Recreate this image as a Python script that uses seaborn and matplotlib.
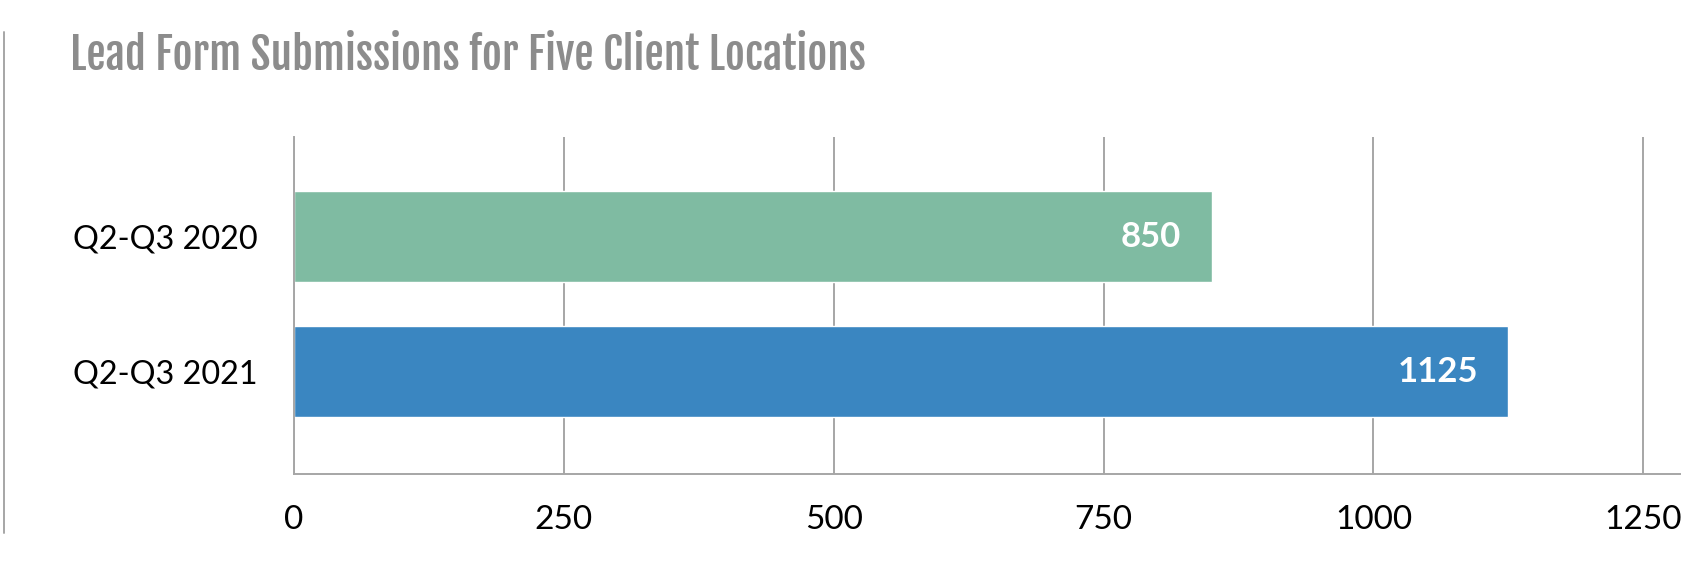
import matplotlib
matplotlib.use("Agg")
import matplotlib.pyplot as plt
from matplotlib import font_manager
from matplotlib.lines import Line2D
import seaborn as sns
import pandas as pd

# ---- data ----
periods = ["Q2-Q3 2020", "Q2-Q3 2021"]
submissions = [850, 1125]
bar_colors = ["#7fbba2", "#3a86c1"]
x_ticks = [0, 250, 500, 750, 1000, 1250]
title_text = "Lead Form Submissions for Five Client Locations"

installed = {f.name for f in font_manager.fontManager.ttflist}
def pick(cands):
    for c in cands:
        if c in installed:
            return c
    return "DejaVu Sans"

title_font = pick(["Fjalla One", "Roboto Condensed", "Liberation Sans Narrow", "Open Sans Condensed", "DejaVu Sans"])
body_font = pick(["Lato", "Roboto", "Open Sans", "DejaVu Sans"])

sns.set_theme(style="white")
plt.rcParams["font.family"] = [body_font, "DejaVu Sans"]

df = pd.DataFrame({"period": periods, "value": submissions})

fig = plt.figure(figsize=(16.84, 5.80), dpi=100)
ax = fig.add_axes([0.1746, 0.1828, 0.9976 - 0.1746, 0.7638 - 0.1828])

sns.barplot(data=df, y="period", x="value", hue="period", palette=bar_colors,
            orient="h", width=0.673, legend=False, ax=ax, saturation=1)

ax.set_xlim(0, 1284)
ax.set_ylim(1.76, -0.74)
ax.set_xticks(x_ticks)
ax.set_xticklabels([str(t) for t in x_ticks])
ax.set_xlabel("")
ax.set_ylabel("")

ax.grid(axis="x", color="#a6a6a6", linewidth=1.4)
ax.grid(axis="y", visible=False)
ax.set_axisbelow(True)
for s in ["top", "right"]:
    ax.spines[s].set_visible(False)
for s in ["left", "bottom"]:
    ax.spines[s].set_color("#a6a6a6")
    ax.spines[s].set_linewidth(1.4)

ax.tick_params(axis="x", length=0, pad=22, labelsize=24, labelcolor="black")
ax.tick_params(axis="y", length=0, pad=26, labelsize=23.3, labelcolor="black")

for cont in ax.containers:
    labels = [f"{int(v)}" for v in cont.datavalues]
    ax.bar_label(cont, labels=labels, label_type="edge", padding=-22,
                 color="white", fontsize=25, fontweight="bold")
for t in ax.texts:
    t.set_horizontalalignment("right")
    t.set_verticalalignment("center")

fig.text(70 / 1684, 1 - 70 / 580, title_text, fontsize=31.2, color="#8c8c8c",
         family=[title_font, "DejaVu Sans"], ha="left", va="baseline")

fig.add_artist(Line2D([4 / 1684, 4 / 1684], [1 - 32 / 580, 1 - 533 / 580],
                      transform=fig.transFigure, color="#a6a6a6", linewidth=1.4))

fig.savefig("out.png", dpi=100)
